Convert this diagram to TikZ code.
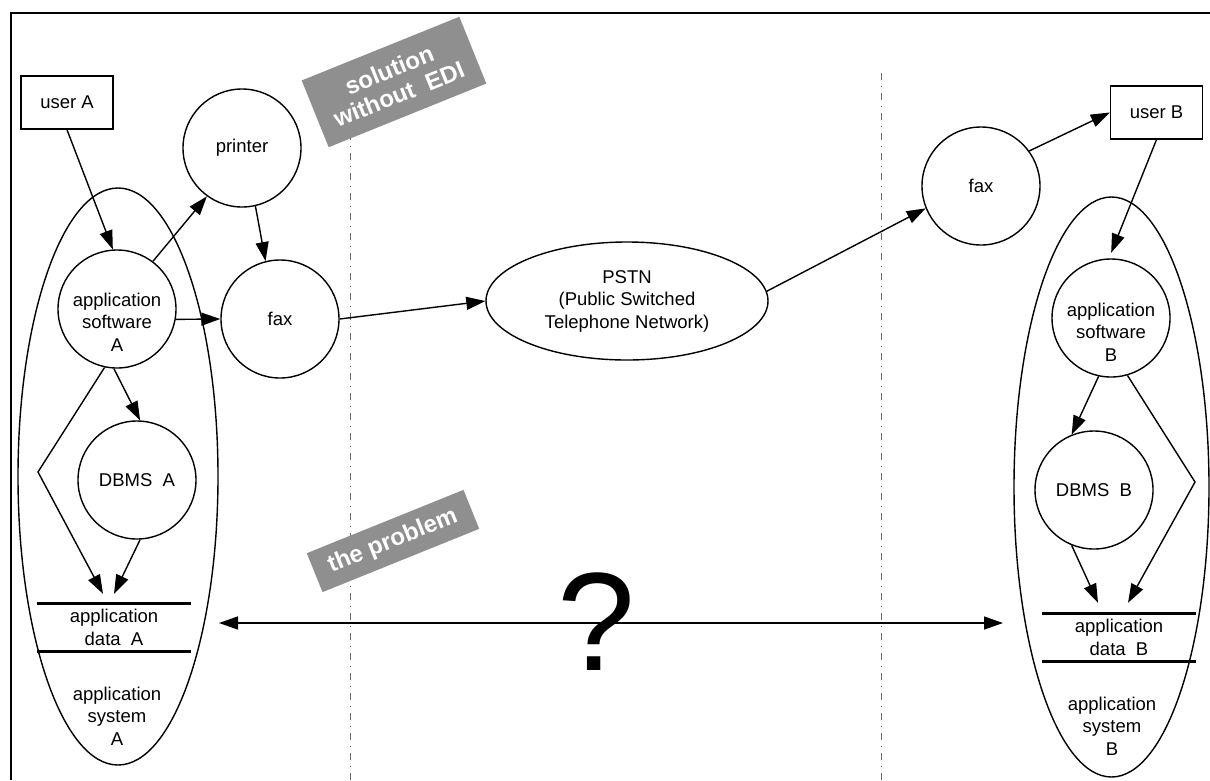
\documentclass[tikz,border=0pt]{standalone}
\usepackage{fontspec}
\setmainfont{Liberation Sans}
\usetikzlibrary{arrows.meta,shapes.geometric,calc}
\definecolor{taggray}{RGB}{143,143,143}
\definecolor{sepgray}{RGB}{105,105,105}
\begin{document}
\begin{tikzpicture}[x=1pt,y=-1pt,
  every node/.style={font=\fontsize{18.5}{22.5}\selectfont},
  proc/.style={circle,draw,line width=1.4pt,minimum size=118pt,inner sep=0pt,align=center},
  actor/.style={rectangle,draw,line width=1.4pt,minimum width=92pt,minimum height=53pt,inner sep=0pt},
  sys/.style={ellipse,draw,line width=1.4pt,inner sep=0pt},
  store/.style={minimum width=154pt,minimum height=47pt,inner sep=0pt,align=center},
  flow/.style={line width=1.4pt,-{Triangle[length=19pt,width=13pt]}},
  both/.style={line width=1.4pt,{Triangle[length=19pt,width=13pt]}-{Triangle[length=19pt,width=13pt]}},
  tag/.style={fill=taggray,text=white,inner sep=0pt,align=center,rotate=22,
              font=\fontsize{24}{26}\selectfont\bfseries},
  sep/.style={sepgray,line width=1pt,dash pattern=on 7pt off 6pt on 1pt off 6pt}]

\useasboundingbox (0,0) rectangle (1210,780);

% outer frame (top and left edges)
\draw[line width=2.8pt] (11,780) -- (11,13) -- (1210,13);

% separators between the two companies and the network
\coordinate (sepLtop) at (350,73);
\coordinate (sepLbot) at (350,780);
\coordinate (sepRtop) at (881,73);
\coordinate (sepRbot) at (881,780);
\draw[sep] (sepLtop) -- (sepLbot);
\draw[sep] (sepRtop) -- (sepRbot);

% application system A
\node[sys,minimum width=200pt,minimum height=577pt] (sysA) at (118,476.5) {};
\node[align=center] (sysAlbl) at (117,716) {application\\system\\A};
\node[actor] (userA) at (67,102.5) {user A};
\node[proc,label={[align=center,yshift=-13pt]center:application\\software\\A}] (swA) at (117,309) {};
\node[proc] (printer) at (242,148) {printer};
\node[proc] (faxA) at (280,319) {fax};
\node[proc] (dbmsA) at (137,480) {DBMS\ \ A};
\node[store] (dataA) at (114,627.5) {application\\data\ \ A};
\draw[line width=2.8pt] (dataA.north west) -- (dataA.north east)
                        (dataA.south west) -- (dataA.south east);

% public network
\node[sys,minimum width=282pt,minimum height=118pt,align=center] (pstn) at (627,301)
  {PSTN\\(Public Switched\\Telephone Network)};

% application system B
\node[sys,minimum width=195pt,minimum height=580pt] (sysB) at (1111.5,487) {};
\node[align=center] (sysBlbl) at (1112,726) {application\\system\\B};
\node[actor] (userB) at (1156.5,112.5) {user B};
\node[proc] (faxB) at (981,186) {fax};
\node[proc,label={[align=center,yshift=-14pt]center:application\\software\\B}] (swB) at (1111,318) {};
\node[proc] (dbmsB) at (1094,490) {DBMS\ \ B};
\node[store] (dataB) at (1119,637.5) {application\\data\ \ B};
\draw[line width=2.8pt] (dataB.north west) -- (dataB.north east)
                        (dataB.south west) -- (dataB.south east);

% flows in system A
\draw[flow] (userA.south) -- (swA.94);
\draw[flow] (swA.53) -- (printer.234);
\draw[flow] (printer.283) -- (faxA.104);
\draw[flow] (swA.-10) -- (faxA.west);
\draw[flow] (swA.267) -- (dbmsA.87);
\coordinate (bendA) at (38,472);
\draw[flow] (swA.258) -- (bendA) -- ([shift={(-11,-10)}]dataA.north);
\draw[flow] (dbmsA.273) -- ([shift={(0,-10)}]dataA.north);

% fax transmission
\draw[flow] (faxA.east) -- (pstn.west);
\draw[flow] (pstn.4) -- (faxB.202);
\draw[flow] (faxB.36) -- (userB.west);

% flows in system B
\draw[flow,shorten >=6pt] (userB.south) -- (swB.92);
\draw[flow] (swB.258) -- (dbmsB.112);
\coordinate (bendB) at (1195,482);
\draw[flow] (swB.286) -- (bendB) -- ([shift={(9,-11)}]dataB.north);
\draw[flow] (dbmsB.248) -- ([shift={(-21,-11)}]dataB.north);

% the open question between the two data stores
\coordinate (qL) at (219,623);
\coordinate (qR) at (1003,623);
\draw[both] (qL) -- (qR);
\node[anchor=base,inner sep=0pt,font=\fontsize{140}{140}\selectfont] (qmark) at (596,670) {?};

% tags
\node[tag,minimum width=170pt,minimum height=72pt] (tagEDI) at (394,82) {solution\\without\ \ EDI};
\node[tag,minimum width=169pt,minimum height=42pt] (tagProblem) at (393,541) {the problem};
\end{tikzpicture}
\end{document}
